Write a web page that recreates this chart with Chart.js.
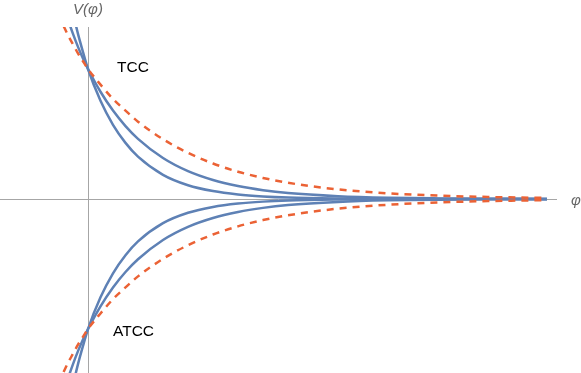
<!DOCTYPE html>
<html>
<head>
<meta charset="utf-8">
<script src="https://cdn.jsdelivr.net/npm/chart.js@4.4.1/dist/chart.umd.min.js"></script>
<style>
  html, body { margin: 0; padding: 0; background: #fff; }
  #wrap { width: 581px; height: 373px; position: relative; }
</style>
</head>
<body>
<div id="wrap"><canvas id="pot_chart"></canvas></div>
<script>
// phi values (sample points)
let phi = [-0.6, -0.5, -0.4, -0.3, -0.2, -0.1, 0, 0.25, 0.5, 0.75, 1, 1.5, 2, 2.5, 3, 3.5, 4, 5, 6, 7, 8, 9.18];

// TCC branch (upper)
let tcc_steep = [2.0, 1.8, 1.6, 1.43, 1.27, 1.13, 1, 0.756, 0.571, 0.432, 0.326, 0.186, 0.106, 0.061, 0.035, 0.02, 0.0113, 0.004, 0.0013, 0.0005, 0.0002, 0.0001];
let tcc_soft = [1.64, 1.5, 1.38, 1.27, 1.17, 1.08, 1, 0.825, 0.68, 0.561, 0.463, 0.315, 0.214, 0.146, 0.1, 0.068, 0.046, 0.022, 0.01, 0.0047, 0.0022, 0.0009];
let tcc_dashed = [1.42, 1.34, 1.26, 1.19, 1.12, 1.06, 1, 0.88, 0.77, 0.68, 0.595, 0.46, 0.355, 0.273, 0.21, 0.162, 0.125, 0.074, 0.044, 0.026, 0.0157, 0.0085];

// ATCC branch (lower)
let atcc_steep = [-2.0, -1.8, -1.6, -1.43, -1.27, -1.13, -1, -0.756, -0.571, -0.432, -0.326, -0.186, -0.106, -0.061, -0.035, -0.02, -0.0113, -0.004, -0.0013, -0.0005, -0.0002, -0.0001];
let atcc_soft = [-1.64, -1.5, -1.38, -1.27, -1.17, -1.08, -1, -0.825, -0.68, -0.561, -0.463, -0.315, -0.214, -0.146, -0.1, -0.068, -0.046, -0.022, -0.01, -0.0047, -0.0022, -0.0009];
let atcc_dashed = [-1.42, -1.34, -1.26, -1.19, -1.12, -1.06, -1, -0.88, -0.77, -0.68, -0.595, -0.46, -0.355, -0.273, -0.21, -0.162, -0.125, -0.074, -0.044, -0.026, -0.0157, -0.0085];

let x_min = -1.76, x_max = 9.38;
let y_min = -1.338, y_max = 1.323;

const blue = "#5E81B5";
const orange = "#EB6235";

function pts(ys) {
  return phi.map((x, i) => ({ x: x, y: ys[i] }));
}

function line_set(ys, color, dashed) {
  return {
    data: pts(ys),
    borderColor: color,
    borderWidth: 2.5,
    borderDash: dashed ? [7, 6] : [],
    pointRadius: 0,
    showLine: true,
    fill: false,
    cubicInterpolationMode: "monotone",
    clip: 0
  };
}

const axes_plugin = {
  id: "axes_plugin",
  beforeDatasetsDraw(chart) {
    let ctx = chart.ctx;
    let xs = chart.scales.x, ys = chart.scales.y;
    let x0 = Math.round(xs.getPixelForValue(0)) + 0.5;
    let y0 = Math.round(ys.getPixelForValue(0)) + 0.5;
    ctx.save();
    ctx.strokeStyle = "#a6a6a6";
    ctx.lineWidth = 1;
    ctx.beginPath();
    ctx.moveTo(0, y0);
    ctx.lineTo(xs.right, y0);
    ctx.moveTo(x0, ys.top);
    ctx.lineTo(x0, ys.bottom);
    ctx.stroke();
    ctx.restore();
  },
  afterDraw(chart) {
    let ctx = chart.ctx;
    let xs = chart.scales.x, ys = chart.scales.y;
    ctx.save();
    ctx.fillStyle = "#666";
    ctx.font = "italic 15px 'Liberation Sans', Arial, sans-serif";
    ctx.textAlign = "center";
    ctx.textBaseline = "middle";
    ctx.fillText("V(\u03c6)", xs.getPixelForValue(0), 10);
    ctx.fillText("\u03c6", 576, ys.getPixelForValue(0) + 2);
    ctx.fillStyle = "#000";
    ctx.font = "15.5px 'Liberation Sans', Arial, sans-serif";
    ctx.textAlign = "left";
    ctx.fillText("TCC", xs.getPixelForValue(0.58), ys.getPixelForValue(1.01));
    ctx.fillText("ATCC", xs.getPixelForValue(0.5), ys.getPixelForValue(-1.02));
    ctx.restore();
  }
};

new Chart("pot_chart", {
  type: "scatter",
  data: {
    datasets: [
      line_set(tcc_dashed, orange, true),
      line_set(atcc_dashed, orange, true),
      line_set(tcc_steep, blue, false),
      line_set(tcc_soft, blue, false),
      line_set(atcc_steep, blue, false),
      line_set(atcc_soft, blue, false)
    ]
  },
  options: {
    responsive: true,
    maintainAspectRatio: false,
    animation: false,
    layout: { padding: { left: 0, right: 24, top: 27, bottom: 0 } },
    plugins: { legend: { display: false }, tooltip: { enabled: false } },
    scales: {
      x: { type: "linear", min: x_min, max: x_max, display: false },
      y: { type: "linear", min: y_min, max: y_max, display: false }
    }
  },
  plugins: [axes_plugin]
});
</script>
</body>
</html>
